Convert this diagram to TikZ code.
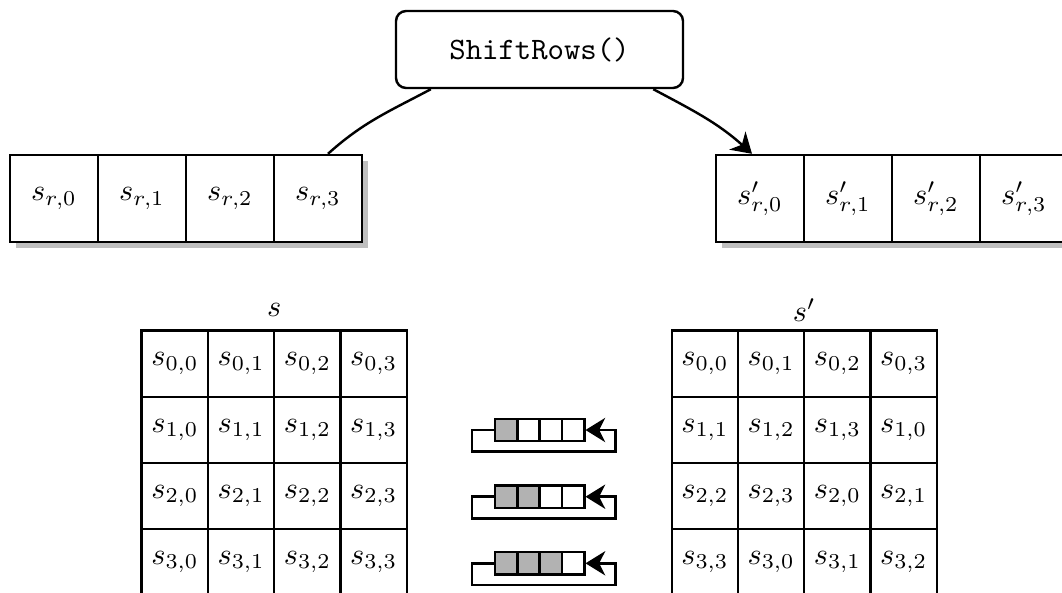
\documentclass[tikz,border=0pt]{standalone}
\usetikzlibrary{arrows.meta,shadows}
\definecolor{shade}{gray}{0.75}
\definecolor{gfill}{gray}{0.70}
\begin{document}
\begin{tikzpicture}[x=0.33pt,y=-0.33pt,
  ln/.style={line width=0.8pt},
  rowcell/.style={ln,draw,fill=white,minimum width=29.04pt,minimum height=28.7pt,inner sep=0pt,
    drop shadow={shadow xshift=2pt,shadow yshift=-2pt,fill=shade,opacity=1,draw=none}},
  matcell/.style={ln,draw,fill=white,minimum size=21.88pt,inner sep=0pt},
  gcell/.style={ln,draw,fill=white,minimum size=7.4pt,inner sep=0pt},
  fnbox/.style={ln,draw,rounded corners=3.3pt,minimum width=94.7pt,minimum height=25.4pt,inner sep=0pt},
  conn/.style={ln},
  tip/.style={-{Stealth[length=6.5pt,width=8pt,inset=2pt]}}
]
\clip (0,0) rectangle (1062,592);
\useasboundingbox (0,0) rectangle (1062,592);

% function box
\node[fnbox,font=\fontsize{10.3}{12}\selectfont] (box) at (539.5,49.5) {\texttt{ShiftRows()}};

% rows
\foreach \j/\x in {0/54,1/142,2/230,3/318}{
  \node[rowcell] (l\j) at (\x,198.5) {$s_{r,\j}$};
}
\foreach \j/\x in {0/760,1/848,2/936,3/1024}{
  \node[rowcell] (r\j) at (\x,198.5) {$s'_{r,\j}$};
}

% connectors
\draw[conn] ([xshift=3.3pt]l3.north) to[out=42,in=208] ([xshift=11.9pt]box.south west);
\draw[conn,tip] ([xshift=-10.2pt]box.south east) to[out=-28,in=138] ([xshift=-2.64pt]r0.north);

% matrix s
\node (slabel) at (274.2,310) {$s$};
\foreach \i in {0,1,2,3}{
  \foreach \j in {0,1,2,3}{
    \node[matcell] (a\i\j) at ({174.85+66.25*\j},{363.8+66.1*\i}) {$s_{\i,\j}$};
  }
}

% matrix s'
\node (splabel) at (804.2,310) {$s'$};
\foreach \i/\lst in {0/{0,1,2,3},1/{1,2,3,0},2/{2,3,0,1},3/{3,0,1,2}}{
  \foreach \c [count=\j from 0] in \lst{
    \node[matcell] (b\i\j) at ({704.85+66.25*\j},{363.8+66.1*\i}) {$s_{\i,\c}$};
  }
}

% shift gadgets
\foreach \k/\y in {1/430,2/496.7,3/563.3}{
  \foreach \j in {0,1,2,3}{
    \pgfmathtruncatemacro{\isg}{\j<\k ? 1 : 0}
    \ifnum\isg=1
      \node[gcell,fill=gfill] (g\k\j) at ({506.2+22.3*\j},\y) {};
    \else
      \node[gcell] (g\k\j) at ({506.2+22.3*\j},\y) {};
    \fi
  }
  \draw[conn,tip] (g\k0.west) -- ++(-21.7,0) -- ++(0,21.7) -- ++(143.4,0) -- ++(0,-21.7) -- (g\k3.east);
}
\end{tikzpicture}
\end{document}
